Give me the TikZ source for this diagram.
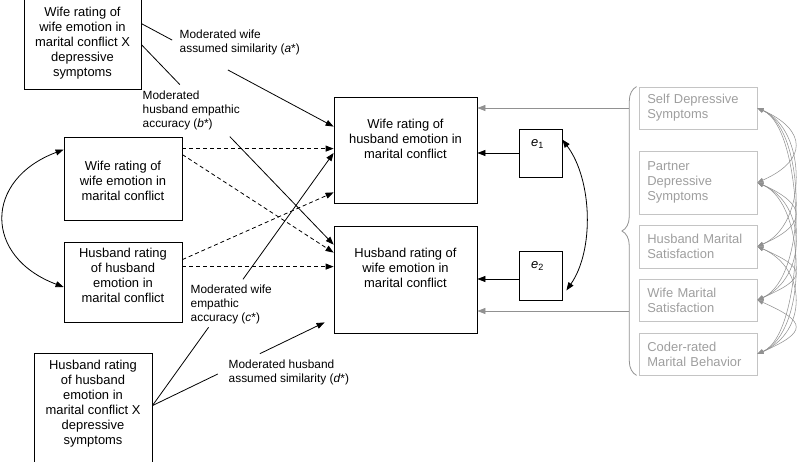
\documentclass[tikz,border=0pt]{standalone}
\usepackage{fontspec}
\setmainfont{Liberation Sans}
\usetikzlibrary{arrows.meta,calc,decorations.pathreplacing}
\definecolor{boxgrey}{RGB}{196,196,196}
\definecolor{txtgrey}{RGB}{158,158,158}
\definecolor{arrgrey}{RGB}{145,145,145}
\tikzset{
  box/.style={draw, rectangle, inner sep=0pt},
  boxtext/.style={align=center, inner sep=0pt, font=\fontsize{9.7}{11.25}\selectfont},
  lbl/.style={anchor=west, align=left, inner sep=1pt, font=\fontsize{8.9}{10.5}\selectfont},
  covbox/.style={draw=boxgrey, rectangle, inner xsep=6.25pt, text width=76pt, align=left, text=txtgrey, font=\fontsize{9.7}{11.25}\selectfont},
  dsh/.style={dash pattern=on 3pt off 2.2pt},
  gline/.style={draw=arrgrey, line width=0.6pt},
  garc/.style={draw=arrgrey, line width=0.4pt, >={Triangle[length=4.5pt,width=3.5pt]}, <->}
}

\begin{document}
\begin{tikzpicture}[x=0.75pt, y=-0.75pt, line width=0.6pt, >={Triangle[length=6pt,width=4.5pt]}]
\useasboundingbox (0,0) rectangle (800,461);

% predictors
\node [box, minimum width=87.75pt, minimum height=70.5pt] (wxd) at (82.5,42) {};
\node [box, minimum width=88.5pt, minimum height=62.25pt] (ww) at (123,178.5) {};
\node [box, minimum width=88.5pt, minimum height=60pt] (hh) at (123,282) {};
\node [box, minimum width=88.5pt, minimum height=87.75pt] (hxd) at (93,411.5) {};

\node [boxtext] (wxdT) at (82.5,43) {Wife rating of\\wife emotion in\\marital conflict X\\depressive\\symptoms};
\node [boxtext] (wwT) at (123,181) {Wife rating of\\wife emotion in\\marital conflict};
\node [boxtext] (hhT) at (123,275) {Husband rating\\of husband\\emotion in\\marital conflict};
\node [boxtext] (hxdT) at (93,404) {Husband rating\\of husband\\emotion in\\marital conflict X\\depressive\\symptoms};

% outcomes and residuals
\node [box, minimum width=107.25pt, minimum height=79.5pt] (whe) at (405.5,150) {};
\node [box, minimum width=107.25pt, minimum height=80.25pt] (hwe) at (405.5,279.5) {};
\node [boxtext] (wheT) at (405.5,139) {Wife rating of\\husband emotion in\\marital conflict};
\node [boxtext] (hweT) at (405.5,268) {Husband rating of\\wife emotion in\\marital conflict};

\node [box, minimum width=32.25pt, minimum height=36pt] (e1) at (540.5,153) {};
\node [box, minimum width=32.25pt, minimum height=36.75pt] (e2) at (540.5,275.5) {};
\node [boxtext] (e1T) at ($(e1)+(-3,-9)$) {\textit{e}\textsubscript{1}};
\node [boxtext] (e2T) at ($(e2)+(-3,-9)$) {\textit{e}\textsubscript{2}};

% covariates
\node [covbox, minimum height=31.5pt] (sds) at (698,108) {Self Depressive\\Symptoms};
\node [covbox, minimum height=47.25pt] (pds) at (698,182.5) {Partner\\Depressive\\Symptoms};
\node [covbox, minimum height=32.25pt] (hms) at (698,246.5) {Husband Marital\\Satisfaction};
\node [covbox, minimum height=31.5pt] (wms) at (698,300) {Wife Marital\\Satisfaction};
\node [covbox, minimum height=31.5pt] (cmb) at (698,354) {Coder-rated\\Marital Behavior};

% path labels
\node [lbl] (la) at (178,42) {Moderated wife\\assumed similarity (\textit{a}*)};
\node [lbl] (lb) at (141,110) {Moderated\\husband empathic\\accuracy (\textit{b}*)};
\node [lbl] (lc) at (189,304) {Moderated wife\\empathic\\accuracy (\textit{c}*)};
\node [lbl] (ld) at (227,372) {Moderated husband\\assumed similarity (\textit{d}*)};

\coordinate (aS) at ($(wxd.north east)+(0,29)$);
\coordinate (aE) at ($(whe.north west)+(0,30)$);
\coordinate (bS) at ($(wxd.north east)+(0,50)$);
\coordinate (bE) at ($(hwe.north west)+(0,19)$);
\coordinate (cS) at ($(hxd.north east)+(0,53)$);
\coordinate (cE) at ($(whe.west)+(0,3)$);
\coordinate (dE) at ($(hwe.south west)+(-9,-11)$);

% moderated paths, broken at the labels
\draw (aS) -- ($(aS)!0.16!(aE)$);
\draw [->] ($(aS)!0.45!(aE)$) -- (aE);
\draw (bS) -- ($(bS)!0.2!(bE)$);
\draw [->] ($(bS)!0.46!(bE)$) -- (bE);
\draw (cS) -- ($(cS)!0.31!(cE)$);
\draw [->] ($(cS)!0.5!(cE)$) -- (cE);
\draw (cS) -- ($(cS)!0.38!(dE)$);
\draw [->] ($(cS)!0.624!(dE)$) -- (dE);

% main effects
\draw [dsh, ->] ($(ww.north east)+(0,12)$) -- ($(whe.north west)+(0,52)$);
\draw [dsh, ->] ($(ww.north east)+(0,18)$) -- ($(hwe.north west)+(0,27)$);
\draw [dsh, ->] ($(hh.north east)+(0,18)$) -- ($(whe.south west)+(0,-11)$);
\draw [dsh, ->] ($(hh.north east)+(0,25)$) -- ($(hwe.north west)+(0,41)$);

\draw [<->] ($(ww.north west)+(0,13)$) .. controls +(-80,30) and +(-80,-30) .. ($(hh.west)+(0,5)$);

\draw [->] (e1.west) -- (e1.west -| whe.east);
\draw [->] ($(e2.west)+(0,3.5)$) -- ($(e2.west -| hwe.east)+(0,3.5)$);
\draw [<->] ($(e1.north east)+(0,11)$) .. controls +(30,40) and +(28,-40) .. ($(e2.south east)+(4,-10)$);

% covariates
\draw [gline, decorate, decoration={brace, amplitude=11pt}] ($(cmb.south west)+(-2,0)$) -- ($(sds.north west)+(-2,0)$);
\coordinate (brA) at (629,108);
\coordinate (brB) at (629,311);
\draw [gline, ->] (brA) -- (brA -| whe.east);
\draw [gline, ->] (brB) -- (brB -| hwe.east);

\foreach \a/\b in {sds/pds,sds/hms,sds/wms,sds/cmb,pds/hms,pds/wms,pds/cmb,hms/wms,hms/cmb,wms/cmb}
  \draw [garc] (\a.east) .. controls +(50,22) and +(50,-22) .. (\b.east);

\end{tikzpicture}
\end{document}
